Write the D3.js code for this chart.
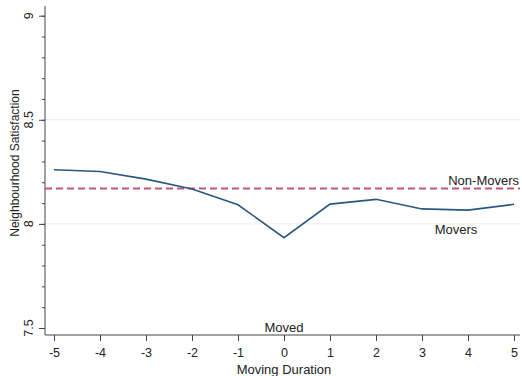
<!DOCTYPE html>
<html>
<head>
<meta charset="utf-8">
<script src="https://cdn.jsdelivr.net/npm/d3@7"></script>
<style>
  body { margin: 0; background: #fff; }
  svg text { font-family: "Liberation Sans", Arial, sans-serif; fill: #222; }
</style>
</head>
<body>
<div id="chart"></div>
<script>
// Data
const durations = [-5, -4, -3, -2, -1, 0, 1, 2, 3, 4, 5];
const movers = [8.26, 8.252, 8.215, 8.168, 8.092, 7.934, 8.095, 8.118, 8.072, 8.066, 8.094];
const nonMovers = 8.17;
const yTicks = [7.5, 8, 8.5, 9];
const yMinorTicks = d3.range(7.5, 9.001, 0.1);
const gridValues = [8, 8.5];

let width = 522, height = 376;
let margin = {top: 6, bottom: 41, left: 45, right: 2};

let svg = d3.select("#chart")
  .append("svg")
  .attr("width", width)
  .attr("height", height);

// scales
let x = d3.scaleLinear()
  .domain([-5, 5])
  .range([54, 514]);

let y = d3.scaleLinear()
  .domain([7.5, 9])
  .range([328, 15.7]);

// light gridlines
svg.append("g")
  .selectAll("line")
  .data(gridValues)
  .enter()
  .append("line")
  .attr("x1", margin.left)
  .attr("x2", width - margin.right)
  .attr("y1", d => y(d))
  .attr("y2", d => y(d))
  .attr("stroke", "#ececec")
  .attr("stroke-width", 1);

// y axis: minor ticks then major ticks
let yAxisMinor = svg.append("g")
  .attr("transform", `translate(${margin.left},0)`)
  .call(d3.axisLeft(y).tickValues(yMinorTicks).tickSize(3).tickFormat(""));
yAxisMinor.select(".domain").remove();

let yAxis = svg.append("g")
  .attr("transform", `translate(${margin.left},0)`)
  .call(d3.axisLeft(y).tickValues(yTicks).tickSize(6).tickSizeOuter(0).tickFormat(""));
yAxis.select(".domain")
  .attr("d", `M0,${margin.top}V${height - margin.bottom}`);

// rotated y tick labels
svg.append("g")
  .selectAll("text")
  .data(yTicks)
  .enter()
  .append("text")
  .attr("transform", d => `translate(29,${y(d)}) rotate(-90)`)
  .attr("dy", "0.35em")
  .attr("text-anchor", "middle")
  .style("font-size", "12.5px")
  .text(d => d3.format("")(d));

svg.selectAll(".tick line").attr("stroke", "#444");
svg.selectAll(".domain").attr("stroke", "#444");

// x axis
let xAxis = svg.append("g")
  .attr("transform", `translate(0,${height - margin.bottom})`)
  .call(d3.axisBottom(x).tickValues(durations).tickSize(6).tickSizeOuter(0).tickFormat(d3.format("d")));
xAxis.select(".domain")
  .attr("d", `M${margin.left},0H${width - 2}`)
  .attr("stroke", "#444");
xAxis.selectAll(".tick line").attr("stroke", "#444");
xAxis.selectAll("text")
  .attr("y", 13)
  .style("font-size", "12.5px")
  .style("fill", "#222")
  .text(d => d < 0 ? "-" + Math.abs(d) : d);

// axis titles
svg.append("text")
  .attr("x", x(0))
  .attr("y", 373.5)
  .attr("text-anchor", "middle")
  .style("font-size", "13px")
  .text("Moving Duration");

svg.append("text")
  .attr("transform", "rotate(-90)")
  .attr("x", -163)
  .attr("y", 19)
  .attr("text-anchor", "middle")
  .style("font-size", "12px")
  .text("Neighbourhood Satisfaction");

// non-movers reference line
svg.append("line")
  .attr("x1", margin.left)
  .attr("x2", width - margin.right)
  .attr("y1", y(nonMovers))
  .attr("y2", y(nonMovers))
  .attr("stroke", "#c2567a")
  .attr("stroke-width", 2)
  .attr("stroke-dasharray", "7,4");

// movers line
let line = d3.line()
  .x((d, i) => x(durations[i]))
  .y(d => y(d));

svg.append("path")
  .datum(movers)
  .attr("d", line)
  .attr("fill", "none")
  .attr("stroke", "#2a5780")
  .attr("stroke-width", 1.6);

// labels
svg.append("text")
  .attr("x", 519)
  .attr("y", 185)
  .attr("text-anchor", "end")
  .style("font-size", "13px")
  .text("Non-Movers");

svg.append("text")
  .attr("x", 456)
  .attr("y", 234)
  .attr("text-anchor", "middle")
  .style("font-size", "13px")
  .text("Movers");

svg.append("text")
  .attr("x", x(0))
  .attr("y", 332)
  .attr("text-anchor", "middle")
  .style("font-size", "13px")
  .text("Moved");
</script>
</body>
</html>
